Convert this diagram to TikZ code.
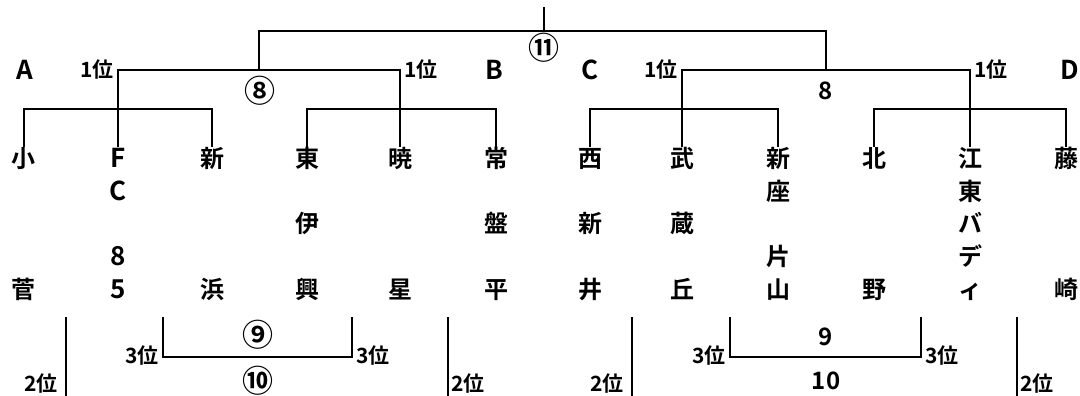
\documentclass[tikz,border=0pt]{standalone}
\usepackage{fontspec}
\newfontfamily\jp{Noto Sans CJK JP}[UprightFont=* Bold]
\begin{document}
\begin{tikzpicture}[x=1pt,y=-1pt,
  ln/.style={line width=2.5pt, line cap=rect},
  nm/.style={font=\jp\fontsize{24}{24}\selectfont, inner sep=0pt, text height=0.83em, text depth=0.07em, minimum height=36pt},
  lat/.style={font=\jp\fontsize{26}{26}\selectfont, inner sep=0pt, text height=0.83em, text depth=0.07em, minimum height=36pt},
  rk/.style={font=\jp\fontsize{21}{21}\selectfont, inner sep=0pt},
  grp/.style={font=\jp\fontsize{26}{26}\selectfont, inner sep=0pt},
  cir/.style={font=\jp\fontsize{31}{31}\selectfont, inner sep=0pt},
  num/.style={font=\jp\fontsize{24}{24}\selectfont, inner sep=0pt}]
\useasboundingbox[fill=white] (0,0) rectangle (1080,396);
% column x: 24,118,212,307,400,496,590,682,778,874,970,1066
% rows: 164,197,229,262,295
% first-row names
\node[nm]  (n1)  at (24,164)  {小};
\node[lat] (n2)  at (118,164) {F};
\node[nm]  (n3)  at (212,164) {新};
\node[nm]  (n4)  at (307,164) {東};
\node[nm]  (n5)  at (400,164) {暁};
\node[nm]  (n6)  at (496,164) {常};
\node[nm]  (n7)  at (590,164) {西};
\node[nm]  (n8)  at (682,164) {武};
\node[nm]  (n9)  at (778,164) {新};
\node[nm]  (n10) at (874,164) {北};
\node[nm]  (n11) at (970,164) {江};
\node[nm]  (n12) at (1066,164) {藤};
% further rows
\node[nm]  (n1e)  at (24,295)  {菅};
\node[lat] (n2b)  at (118,197) {C};
\node[lat] (n2d)  at (118,262) {8};
\node[lat] (n2e)  at (118,295) {5};
\node[nm]  (n3e)  at (212,295) {浜};
\node[nm]  (n4c)  at (307,229) {伊};
\node[nm]  (n4e)  at (307,295) {興};
\node[nm]  (n5e)  at (400,295) {星};
\node[nm]  (n6c)  at (496,229) {盤};
\node[nm]  (n6e)  at (496,295) {平};
\node[nm]  (n7c)  at (590,229) {新};
\node[nm]  (n7e)  at (590,295) {井};
\node[nm]  (n8c)  at (682,229) {蔵};
\node[nm]  (n8e)  at (682,295) {丘};
\node[nm]  (n9b)  at (778,197) {座};
\node[nm]  (n9d)  at (778,262) {片};
\node[nm]  (n9e)  at (778,295) {山};
\node[nm]  (n10e) at (874,295) {野};
\node[nm]  (n11b) at (970,197) {東};
\node[nm]  (n11c) at (970,229) {バ};
\node[nm]  (n11d) at (970,262) {デ};
\node[nm]  (n11e) at (970,295) {ィ};
\node[nm]  (n12e) at (1066,295) {崎};
% junctions
\coordinate (g1) at (118,109);
\coordinate (g2) at (400,109);
\coordinate (g3) at (682,109);
\coordinate (g4) at (970,109);
\coordinate (q1) at (118,70);
\coordinate (q2) at (400,70);
\coordinate (q3) at (682,70);
\coordinate (q4) at (970,70);
\coordinate (m1) at (259,70);
\coordinate (m2) at (826,70);
\coordinate (t11) at (544,31);
\coordinate (ttop) at (544,8);
% group brackets
\draw[ln] (n1.north) |- (g1) -| (n3.north);
\draw[ln] (n4.north) |- (g2) -| (n6.north);
\draw[ln] (n7.north) |- (g3) -| (n9.north);
\draw[ln] (n10.north) |- (g4) -| (n12.north);
% first round
\draw[ln] (n2.north) -- (q1) -- (q2) -- (n5.north);
\draw[ln] (n8.north) -- (q3) -- (q4) -- (n11.north);
% final
\draw[ln] (m1) |- (t11) -| (m2);
\draw[ln] (ttop) -- (t11);
% labels top
\node[grp] (lA) at (25,70) {A};
\node[grp] (lB) at (494,70) {B};
\node[grp] (lC) at (590,70) {C};
\node[grp] (lD) at (1070,70) {D};
\node[rk, anchor=east] (r1a) at (114,70) {1位};
\node[rk, anchor=west] (r1b) at (404,70) {1位};
\node[rk, anchor=east] (r1c) at (678,70) {1位};
\node[rk, anchor=west] (r1d) at (974,70) {1位};
\node[cir] (c8) at (260,91) {⑧};
\node[num] (d8) at (826,91) {8};
\node[cir] (c11) at (544,48) {⑪};
% bottom
\coordinate (b1t) at (66,318);  \coordinate (b1b) at (66,396);
\coordinate (b2t) at (448,318); \coordinate (b2b) at (448,396);
\coordinate (b3t) at (632,318); \coordinate (b3b) at (632,396);
\coordinate (b4t) at (1017,318); \coordinate (b4b) at (1017,396);
\draw[ln] (b1t) -- (b1b);
\draw[ln] (b2t) -- (b2b);
\draw[ln] (b3t) -- (b3b);
\draw[ln] (b4t) -- (b4b);
\coordinate (k1a) at (163,318); \coordinate (k1b) at (352,318); \coordinate (k1m) at (258,357);
\coordinate (k2a) at (730,318); \coordinate (k2b) at (921,318); \coordinate (k2m) at (826,357);
\draw[ln] (k1a) |- (k1m) -| (k1b);
\draw[ln] (k2a) |- (k2m) -| (k2b);
\node[rk, anchor=east] (s2a) at (58,384) {2位};
\node[rk, anchor=west] (s2b) at (451,384) {2位};
\node[rk, anchor=east] (s2c) at (624,384) {2位};
\node[rk, anchor=west] (s2d) at (1020,384) {2位};
\node[rk, anchor=east] (s3a) at (159,356) {3位};
\node[rk, anchor=west] (s3b) at (356,356) {3位};
\node[rk, anchor=east] (s3c) at (726,356) {3位};
\node[rk, anchor=west] (s3d) at (925,356) {3位};
\node[cir] (c9) at (258,335) {⑨};
\node[cir] (c10) at (258,381) {⑩};
\node[num] (d9) at (826,337) {9};
\node[num] (d10) at (826,381) {10};
\end{tikzpicture}
\end{document}
